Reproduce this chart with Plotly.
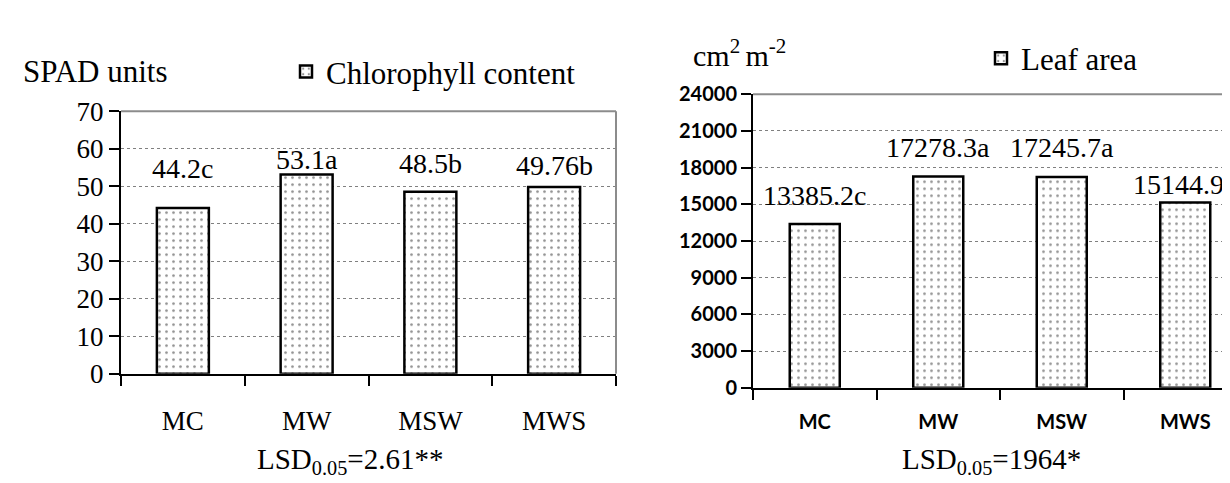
import plotly.graph_objects as go

# ---- data ----
categories = ["MC", "MW", "MSW", "MWS"]
chlorophyll = [44.2, 53.1, 48.5, 49.76]
chl_labels = ["44.2c", "53.1a", "48.5b", "49.76b"]
leaf_area = [13385.2, 17278.3, 17245.7, 15144.9]
leaf_labels = ["13385.2c", "17278.3a", "17245.7a", "15144.9b"]
chl_ticks = [0, 10, 20, 30, 40, 50, 60, 70]
leaf_ticks = [0, 3000, 6000, 9000, 12000, 15000, 18000, 21000, 24000]

# ---- layout constants (pixels) ----
W, H = 1230, 483
SERIF = "Liberation Serif, Times New Roman, serif"
SANS = "Lato, Carlito, Calibri, sans-serif"

def px(x):
    return x / W

def py(y):
    return 1 - y / H

# label offsets above bar tops (px), as placed in the original
chl_shift = [39, 15, 28, 22]
leaf_shift = [29, 29, 29, 18]

pattern = dict(shape=".", fgcolor="#222222", bgcolor="white", size=7, solidity=0.12)

fig = go.Figure()
fig.add_trace(go.Bar(
    x=categories, y=chlorophyll, name="Chlorophyll content",
    width=0.42, marker=dict(color="white", pattern=pattern, line=dict(color="black", width=2.5)),
    xaxis="x", yaxis="y", legend="legend", showlegend=True,
))
fig.add_trace(go.Bar(
    x=categories, y=leaf_area, name="Leaf area",
    width=0.405, marker=dict(color="white", pattern=pattern, line=dict(color="black", width=2.5)),
    xaxis="x2", yaxis="y2", legend="legend2", showlegend=True,
))

annotations = []
for c, v, t, s in zip(categories, chlorophyll, chl_labels, chl_shift):
    annotations.append(dict(x=c, y=v, xref="x", yref="y", text=t, showarrow=False,
                            yanchor="middle", yshift=s, font=dict(family=SERIF, size=28, color="black")))
for c, v, t, s in zip(categories, leaf_area, leaf_labels, leaf_shift):
    annotations.append(dict(x=c, y=v, xref="x2", yref="y2", text=t, showarrow=False,
                            yanchor="middle", yshift=s, font=dict(family=SERIF, size=28, color="black")))

# axis titles / footers
annotations += [
    dict(x=px(87), y=py(52), xref="paper", yref="paper", text="SPAD units", showarrow=False,
         xanchor="center", yanchor="middle", font=dict(family=SERIF, size=31, color="black")),
    dict(x=px(683), y=py(32), xref="paper", yref="paper", text="cm<sup>2 </sup>m<sup>-2</sup>", showarrow=False,
         xanchor="left", yanchor="middle", font=dict(family=SERIF, size=30, color="black")),
    dict(x=px(342), y=py(467), xref="paper", yref="paper", text="LSD<sub>0.05</sub>=2.61**", showarrow=False,
         xanchor="center", yanchor="middle", font=dict(family=SERIF, size=29, color="black")),
    dict(x=px(983), y=py(467), xref="paper", yref="paper", text="LSD<sub>0.05</sub>=1964*", showarrow=False,
         xanchor="center", yanchor="middle", font=dict(family=SERIF, size=29, color="black")),
]

shapes = [
    # left plot top and right borders (gray)
    dict(type="line", xref="x domain", yref="y domain", x0=0, x1=1, y0=1, y1=1,
         line=dict(color="#8c8c8c", width=2)),
    dict(type="line", xref="x domain", yref="y domain", x0=1, x1=1, y0=0, y1=1,
         line=dict(color="#8c8c8c", width=2)),
    # right plot top border
    dict(type="line", xref="x2 domain", yref="y2 domain", x0=0, x1=1, y0=1, y1=1,
         line=dict(color="#8c8c8c", width=2)),
]

axis_common = dict(showline=True, linecolor="black", linewidth=2, ticks="outside",
                   ticklen=10, tickwidth=2, tickcolor="black", zeroline=False)

cat_w = 123.5
fig.update_layout(
    width=W, height=H,
    margin=dict(l=0, r=0, t=0, b=0),
    paper_bgcolor="white", plot_bgcolor="white",
    barmode="group",
    xaxis=dict(domain=[px(113), px(608)], type="category", range=[-0.5, 3.5],
               tickson="boundaries", showgrid=False, anchor="y",
               tickfont=dict(family=SERIF, size=27, color="black"), ticklabelstandoff=22,
               **axis_common),
    yaxis=dict(domain=[py(374), py(94)], range=[0, 70], tickvals=chl_ticks, anchor="x",
               showgrid=True, gridcolor="#808080", gridwidth=1, griddash="dot",
               tickfont=dict(family=SERIF, size=27, color="black"), **axis_common),
    xaxis2=dict(domain=[px(745), 1.0], type="category",
                range=[-0.5, 3.5 - (745 + 4 * cat_w - W) / cat_w],
                tickson="boundaries", showgrid=False, anchor="y2",
                tickfont=dict(family=SANS, size=20, color="black", weight="bold"), ticklabelstandoff=15,
                **axis_common),
    yaxis2=dict(domain=[py(389), py(76)], range=[0, 24000], tickvals=leaf_ticks, anchor="x2",
                tickformat="d",
                showgrid=True, gridcolor="#808080", gridwidth=1, griddash="dot",
                tickfont=dict(family=SANS, size=20, color="black", weight="bold"), **axis_common),
    legend=dict(x=px(278), y=py(52), xanchor="left", yanchor="middle", bgcolor="rgba(0,0,0,0)",
                font=dict(family=SERIF, size=31, color="black"), itemwidth=30),
    legend2=dict(x=px(973), y=py(38), xanchor="left", yanchor="middle", bgcolor="rgba(0,0,0,0)",
                 font=dict(family=SERIF, size=31, color="black"), itemwidth=30),
    annotations=annotations,
    shapes=shapes,
)

fig.write_html("out.html")
